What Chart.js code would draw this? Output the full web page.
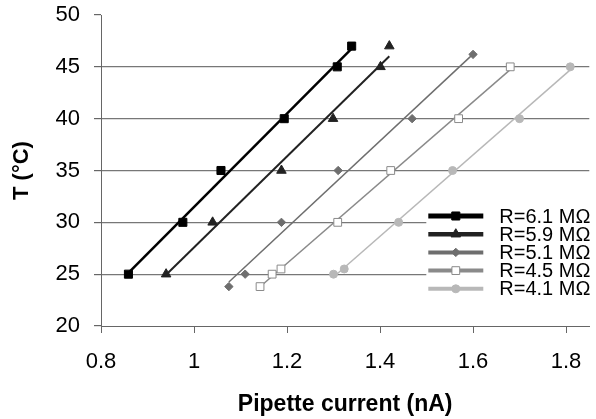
<!DOCTYPE html>
<html>
<head>
<meta charset="utf-8">
<script src="https://cdn.jsdelivr.net/npm/chart.js@4/dist/chart.umd.min.js"></script>
<style>
  body { margin: 0; background: #fff; }
</style>
</head>
<body>
<canvas id="tempChart" width="596" height="419"></canvas>
<script>
// values (pipette current in nA, temperature in °C)
var labels = ["R=6.1 MΩ", "R=5.9 MΩ", "R=5.1 MΩ", "R=4.5 MΩ", "R=4.1 MΩ"];
var xTicks = [0.8, 1, 1.2, 1.4, 1.6, 1.8];
var current61 = [0.859, 0.976, 1.058, 1.194, 1.308, 1.339];
var temp61 = [25, 30, 35, 40, 45, 47];
var current59 = [0.940, 1.040, 1.188, 1.299, 1.401, 1.420];
var temp59 = [25, 30, 35, 40, 45, 47];
var current51 = [1.075, 1.110, 1.188, 1.310, 1.469, 1.600];
var temp51 = [23.8, 25, 30, 35, 40, 46.2];
var current45 = [1.142, 1.168, 1.187, 1.309, 1.423, 1.569, 1.680];
var temp45 = [23.8, 25, 25.5, 30, 35, 40, 45];
var current41 = [1.300, 1.323, 1.440, 1.556, 1.700, 1.809];
var temp41 = [25, 25.5, 30, 35, 40, 45];

var FONT = "'Liberation Sans', Arial, sans-serif";

// look of each series
var styles = [
  { color: "#000000", fill: "#000000", point: "rect", radius: 5.7, width: 2.5, legendWidth: 5 },
  { color: "#222222", fill: "#222222", point: "triangle", radius: 5.5, width: 2, legendWidth: 4.5 },
  { color: "#6e6e6e", fill: "#6e6e6e", point: "rectRot", radius: 4.2, width: 1.5, legendWidth: 4 },
  { color: "#8a8a8a", fill: "#ffffff", point: "rect", radius: 5.5, width: 1.5, legendWidth: 4 },
  { color: "#b8b8b8", fill: "#b8b8b8", point: "circle", radius: 4, width: 1.5, legendWidth: 4 }
];

function pts(xs, ys) {
  return xs.map(function(x, i) { return { x: x, y: ys[i] }; });
}

// least squares trendline across the range of the points (like the spreadsheet trendline)
function trend(xs, ys) {
  var n = xs.length, mx = 0, my = 0, sxy = 0, sxx = 0;
  for (var i = 0; i < n; i++) { mx += xs[i] / n; my += ys[i] / n; }
  for (var i = 0; i < n; i++) {
    sxy += (xs[i] - mx) * (ys[i] - my);
    sxx += (xs[i] - mx) * (xs[i] - mx);
  }
  var b = sxy / sxx;
  var lo = Math.min.apply(null, xs), hi = Math.max.apply(null, xs);
  return [{ x: lo, y: my + b * (lo - mx) }, { x: hi, y: my + b * (hi - mx) }];
}

var series = [
  [current61, temp61], [current59, temp59], [current51, temp51], [current45, temp45], [current41, temp41]
];

var datasets = [];
series.forEach(function(s, i) {
  var st = styles[i];
  datasets.push({
    label: labels[i] + " fit",
    data: trend(s[0], s[1]),
    showLine: true,
    borderColor: st.color,
    borderWidth: st.width,
    pointRadius: 0,
    fill: false,
    order: 2
  });
  datasets.push({
    label: labels[i],
    data: pts(s[0], s[1]),
    showLine: false,
    pointStyle: st.point,
    pointRadius: st.radius,
    pointBackgroundColor: st.fill,
    pointBorderColor: st.color,
    pointBorderWidth: 1,
    order: 1
  });
});

// legend box in the lower right of the plot
var boxLegend = {
  id: "boxLegend",
  afterDraw: function(chart) {
    var ctx = chart.ctx, area = chart.chartArea;
    var left = area.right - 163, top = area.top + 191;
    ctx.save();
    ctx.fillStyle = "#ffffff";
    ctx.fillRect(left, top, 175, 92);
    ctx.font = "20px " + FONT;
    ctx.textBaseline = "middle";
    labels.forEach(function(lab, i) {
      var st = styles[i];
      var y = top + 10 + i * 18.2;
      ctx.strokeStyle = st.color;
      ctx.lineWidth = st.legendWidth;
      ctx.beginPath();
      ctx.moveTo(left + 2, y);
      ctx.lineTo(left + 57, y);
      ctx.stroke();
      ctx.fillStyle = st.fill;
      ctx.strokeStyle = st.color;
      ctx.lineWidth = 1;
      Chart.helpers.drawPoint(ctx, { pointStyle: st.point, radius: st.radius, borderWidth: 1 }, left + 29.5, y);
      ctx.fillStyle = "#000";
      ctx.fillText(lab, left + 73, y + 1);
    });
    ctx.restore();
  }
};

function noPad(s) {
  s.paddingTop = 0; s.paddingBottom = 0; s.paddingLeft = 0; s.paddingRight = 0;
}

new Chart("tempChart", {
  type: "scatter",
  data: { datasets: datasets },
  plugins: [boxLegend],
  options: {
    responsive: false,
    animation: false,
    layout: { padding: { top: 15, right: 5, left: 0, bottom: 0 } },
    plugins: { legend: { display: false }, tooltip: { enabled: false } },
    scales: {
      x: {
        type: "linear",
        position: "bottom",
        min: 0.8,
        max: 1.85,
        afterBuildTicks: function(s) {
          s.ticks = xTicks.map(function(v) { return { value: v }; });
        },
        afterFit: function(s) { s.height = 93; noPad(s); },
        ticks: {
          padding: 16,
          color: "#000",
          font: { family: FONT, size: 22 },
          callback: function(v) { return String(Math.round(v * 10) / 10); }
        },
        grid: { drawOnChartArea: false, drawTicks: true, tickLength: 7, tickColor: "#666", tickWidth: 1 },
        border: { color: "#666", width: 1 },
        title: {
          display: true,
          text: "Pipette current (nA)",
          color: "#000",
          font: { family: FONT, size: 23, weight: "bold" },
          padding: { top: 0, bottom: 1 }
        }
      },
      y: {
        min: 20,
        max: 50,
        afterFit: function(s) { s.width = 101; noPad(s); },
        ticks: {
          stepSize: 5,
          padding: 14,
          color: "#000",
          font: { family: FONT, size: 22 }
        },
        grid: {
          color: function(c) {
            return (c.tick && (c.tick.value === 50 || c.tick.value === 20)) ? "rgba(0,0,0,0)" : "#777777";
          },
          lineWidth: 1.2,
          drawTicks: true,
          tickLength: 7,
          tickColor: "#666"
        },
        border: { color: "#666", width: 1 },
        title: {
          display: true,
          text: "T (°C)",
          color: "#000",
          font: { family: FONT, size: 22, weight: "bold" },
          padding: { top: 9, bottom: 0 }
        }
      }
    }
  }
});
</script>
</body>
</html>
